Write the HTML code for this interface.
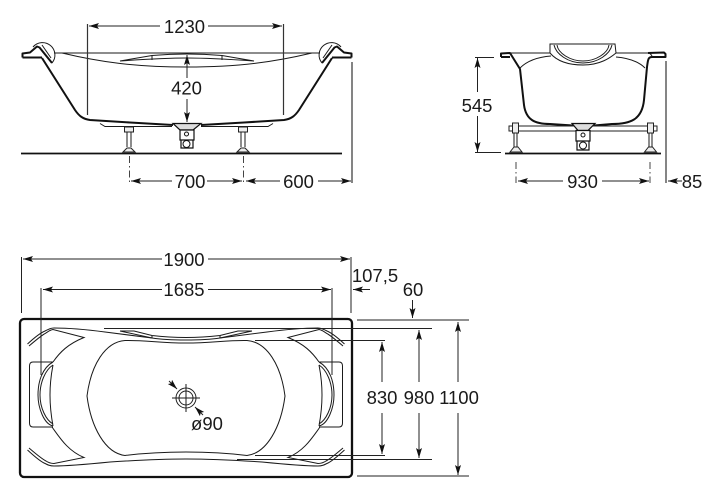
<!DOCTYPE html>
<html><head><meta charset="utf-8"><style>
html,body{margin:0;padding:0;background:#fff}
svg{display:block}
text{font-family:"Liberation Sans",sans-serif;font-size:18.500px;fill:#1a1a1a;text-anchor:middle}
.d{stroke:#222;stroke-width:1;fill:none}
.v{stroke:#333;stroke-width:1.200;fill:none}
.t{stroke:#1a1a1a;stroke-width:1;fill:none}
.h{stroke:#111;stroke-width:2;fill:none;stroke-linejoin:round}
.dd{stroke:#444;stroke-width:1;fill:none;stroke-dasharray:7 3 1.500 3}
</style></head><body>
<svg width="720" height="497" viewBox="0 0 720 497" xmlns="http://www.w3.org/2000/svg">
<defs>
<marker id="a" markerUnits="userSpaceOnUse" markerWidth="12" markerHeight="8" refX="10" refY="3" orient="auto"><path d="M0 0L10 3L0 6L2 3Z" fill="#111"/></marker>
<g id="sideHalf">
  <path d="M33 47A11.500 11.500 0 1 1 52 63" class="t"/>
  <path d="M22.500 57.500V53.500L30 52.500L37 46.500L39.500 47.500L52 63" class="h" stroke-width="1.700"/>
  <path d="M22.500 57.500H42" class="h" stroke-width="1.700"/>
  <path d="M42 58L75 110C79 116 83 119 90 120L130 122.500L173 125" class="h" stroke-width="2.300"/>
  <path d="M42 45L51 58" class="t"/>
</g>
<g id="foot">
  <path d="M-4.500 -26H4.500V-21H-4.500Z" fill="#eee" stroke="#222" stroke-width="1"/>
  <path d="M-2 -21V-6M2 -21V-6" class="t"/>
  <path d="M-6 -1L-2 -5H2L6 -1Z" fill="#eee" stroke="#222" stroke-width="1"/>
</g>
<g id="planHalf">
  <path d="M27.500 344C34 338 40 333 45 331C49 329 51 328 54 328C70 328 90 330 105 332L152 338C165 340 175 340 186 340" class="t"/>
  <path d="M29 346C36 340 42 335 46 333C49 331 50 330 53 329.500L84 337.500C68 344 60 352 53 362" class="t"/>
  <path d="M120 331H134L152 335.500C165 337 175 337.500 186 337.500" class="t"/>
  <path d="M120 331L152 338" class="t"/>
  <path d="M152 335.500V338.500" class="t"/>
  <path d="M186 343C160 343 145 340 125 340.500C105 342 91 365 87 396C91 427 105 453 125 455.500C145 453 165 452 186 452" class="t"/>
  <path d="M27.500 450C34 456 40 461 44 463C48 465 50 466 54 466C70 466 90 464 110 462C140 460 165 459 186 459" class="t"/>
  <path d="M29 448C36 454 42 459 46 461C49 463 51 463.500 54 463.500L84 457.500C68 451 60 438 52 427" class="t"/>
  <path d="M53 362H33Q29.500 362 29.500 366V423Q29.500 427 33 427H53" class="t"/>
  <path d="M53 362C42 368 38 382 38 395C38 408 44 424 53 426" class="t"/>
  <path d="M53 365C45 370 40 383 40 395C40 408 46 420 53 424" class="t"/>
  <path d="M53 365C51 375 50 385 50 395C50 405 51 415 53 426" class="t"/>
</g>
</defs>

<!-- SIDE VIEW -->
<use href="#sideHalf"/>
<use href="#sideHalf" transform="matrix(-1 0 0 1 374 0)"/>
<path d="M54 53H320" class="t"/>
<path d="M62 53C100 62 135 67 187 67C239 67 274 62 312 53" class="t"/>
<path d="M120 61L152 55.500C175 53.500 199 53.500 222 55.500L254 61C225 59 205 58 187 58C169 58 149 59 120 61Z" class="t"/>
<path d="M152 55.500V60M222 55.500V60" class="t"/>
<path d="M100 123.500L105 126.500H172M273 123.500L268 126.500H201" class="t" stroke="#777"/>
<path d="M173 123.500H201L193 130H180Z" fill="#ddd" stroke="#111" stroke-width="1.200"/>
<path d="M180 130H194V140H180ZM181 140H193V148H181Z" fill="#fff" stroke="#111" stroke-width="1.200"/>
<circle cx="186.500" cy="134" r="2" fill="#fff" stroke="#111"/>
<circle cx="186.500" cy="144" r="3.500" fill="#fff" stroke="#111"/>
<use href="#foot" x="129" y="153"/>
<use href="#foot" x="243" y="153"/>
<path d="M21 153.500H342" stroke="#111" stroke-width="1.800"/>
<path d="M87.500 24V115M283.500 24V115" class="v"/>
<path d="M352 62V183" class="v"/>
<path d="M129.500 156V183M243.500 156V183" class="dd"/>
<path d="M160 26H89" class="d" marker-end="url(#a)"/>
<path d="M208 26H282" class="d" marker-end="url(#a)"/>
<path d="M187 78V55" class="d" marker-end="url(#a)"/>
<path d="M187 99V122" class="d" marker-end="url(#a)"/>
<path d="M172 181H131" class="d" marker-end="url(#a)"/>
<path d="M207 181H242" class="d" marker-end="url(#a)"/>
<path d="M280 181H246" class="d" marker-end="url(#a)"/>
<path d="M318 181H351" class="d" marker-end="url(#a)"/>
<text x="184.500" y="33">1230</text>
<text x="186.500" y="94.500">420</text>
<text x="190" y="188">700</text>
<text x="298.500" y="188">600</text>

<!-- END VIEW -->
<path d="M501 57V53.500L510 53L520 69L524 105C526 120 535 124 550 124L573 125.500" class="h" stroke-width="2"/>
<path d="M501 57H510" class="h" stroke-width="1.600"/>
<path d="M510 53H550M616 53H648" class="t" stroke-width="1.300"/>
<path d="M648 53L664 52.500L665.500 54V57H652" class="h" stroke-width="1.800"/>
<path d="M652 57C648 57 648 60 647 67L644 100C642 120 630 124 612 124L594 125.500" class="h"/>
<path d="M648 53C650 53 652 55 652 57" class="t"/>
<path d="M550 44H615L616 53C610 58 600 65 583 65C566 65 556 60 550 53Z" class="t" stroke-width="1.200"/>
<path d="M554 45C556 54 568 63 583 63C598 63 610 54 612 45" class="t"/>
<path d="M557 45C558 53 570 61 583 61C596 61 608 53 609 45" class="t"/>
<path d="M520 68C527 61 538 57 551 56M645 68C638 61 628 58 616 57" class="t"/>
<path d="M509 126H657V131H509Z" fill="#fff" stroke="#222" stroke-width="1"/>
<path d="M572 123.500H595L588 130.500H578Z" fill="#ddd" stroke="#111" stroke-width="1.200"/>
<path d="M576 130.500H590V141H576ZM577 141H589V150H577Z" fill="#fff" stroke="#111" stroke-width="1.200"/>
<circle cx="583" cy="135" r="2" fill="#fff" stroke="#111"/>
<circle cx="583" cy="145.500" r="3.500" fill="#fff" stroke="#111"/>
<path d="M512.500 123H518.500V133H512.500ZM647.500 123H653.500V133H647.500Z" fill="#eee" stroke="#222"/>
<path d="M514 133V147M517 133V147M649 133V147M652 133V147" class="t"/>
<path d="M510 152L514 147H518L522 152ZM644.500 152L648.500 147H652.500L656.500 152Z" fill="#eee" stroke="#222"/>
<path d="M505 153.500H661" stroke="#111" stroke-width="1.800"/>
<path d="M475 57.500H494M475 152.500H501" class="d"/>
<path d="M666 61V183" class="v"/>
<path d="M516 162V183M650 162V183" class="dd"/>
<path d="M477.500 92V58" class="d" marker-end="url(#a)"/>
<path d="M477.500 116V152" class="d" marker-end="url(#a)"/>
<path d="M563 181H518" class="d" marker-end="url(#a)"/>
<path d="M602 181H649" class="d" marker-end="url(#a)"/>
<path d="M682 181H668" class="d" marker-end="url(#a)"/>
<text x="477" y="112">545</text>
<text x="582.500" y="188">930</text>
<text x="692" y="188">85</text>

<!-- PLAN VIEW -->
<rect x="20" y="319" width="332" height="158" rx="4" fill="none" stroke="#111" stroke-width="2.300"/>
<use href="#planHalf"/>
<use href="#planHalf" transform="matrix(-1 0 0 1 372 0)"/>
<circle cx="186" cy="398" r="10" fill="none" stroke="#222" stroke-width="1"/>
<circle cx="186" cy="398" r="7" fill="none" stroke="#222" stroke-width="1"/>
<path d="M172 398H200M186 384V412" class="t"/>
<path d="M169 381L177 389" class="d" marker-end="url(#a)"/>
<path d="M203 415L195 407" class="d" marker-end="url(#a)"/>
<text x="207" y="430">ø90</text>

<path d="M21.500 257V313M351 257V313" class="d"/>
<path d="M41 288V375M332 288V375" class="d"/>
<path d="M162 259H23" class="d" marker-end="url(#a)"/>
<path d="M208 259H350" class="d" marker-end="url(#a)"/>
<path d="M162 289.500H43" class="d" marker-end="url(#a)"/>
<path d="M208 289.500H331" class="d" marker-end="url(#a)"/>
<path d="M370 289.500H353" class="d" marker-end="url(#a)"/>
<path d="M412.500 300V318" class="d" marker-end="url(#a)"/>
<path d="M357 320H469M357 476H469" class="d"/>
<path d="M104 328.500H432M237 459.500H432" class="d"/>
<path d="M255 340.500H385M255 455.500H385" class="d"/>
<path d="M382 382V342" class="d" marker-end="url(#a)"/>
<path d="M382 413V454" class="d" marker-end="url(#a)"/>
<path d="M419 382V330" class="d" marker-end="url(#a)"/>
<path d="M419 413V458" class="d" marker-end="url(#a)"/>
<path d="M458 382V322" class="d" marker-end="url(#a)"/>
<path d="M458 413V475" class="d" marker-end="url(#a)"/>
<text x="184" y="266">1900</text>
<text x="184" y="296">1685</text>
<text x="375" y="282">107,5</text>
<text x="413" y="296">60</text>
<text x="382" y="404">830</text>
<text x="419" y="404">980</text>
<text x="459" y="404">1100</text>
</svg>
</body></html>
